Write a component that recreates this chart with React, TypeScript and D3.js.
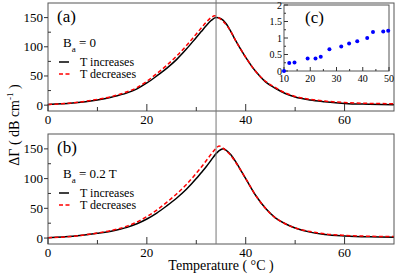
import React from "react";
import * as d3 from "d3";

// panel (a), B_a = 0
const upA = [[0,1],[5,3.5],[10,9],[13,14],[16,21],[18,28],[20,38],[22,50],[24,63],[26,78],[28,96],[30,116],[31,126],[32,136],[33,145],[34,150],[35,148],[36,140],[37,126],[38,110],[40,82],[42,58],[44,40],[46,29],[48,20],[50,14],[53,9],[56,6],[60,3],[65,1.5],[70,0.5]];
const downA = [[0,1],[5,4],[10,10],[13,15],[16,23],[18,30],[20,41],[22,54],[24,68],[26,84],[28,102],[30,122],[31,132],[32,142],[33,150],[33.7,153],[34.5,150],[35.5,143],[37,126],[38,110],[40,82],[42,58],[44,41],[46,30],[48,21],[50,15],[53,10],[56,7],[60,4.5],[65,3],[70,2.5]];
// panel (b), B_a = 0.2 T
const upB = [[0,0.5],[5,3],[10,8],[13,12],[16,18],[18,24],[20,32],[22,42],[24,54],[26,67],[28,82],[30,100],[31,110],[32,120],[33,131],[34,142],[35,149],[35.5,150],[36,148],[37,140],[38,128],[39,114],[40,100],[42,72],[44,50],[46,34],[48,24],[50,17],[53,10],[56,6],[60,3.5],[65,2],[70,1.5]];
const downB = [[0,0.5],[5,3],[10,8.5],[13,13],[16,20],[18,27],[20,36],[22,47],[24,60],[26,74],[28,90],[30,109],[31,119],[32,130],[33,141],[34,151],[34.6,155],[35.3,152],[36,147],[37,139],[38,127],[39,114],[40,100],[42,72],[44,50],[46,34],[48,24],[50,17],[53,11],[56,7],[60,4.5],[65,3],[70,2.5]];
// inset (c)
const insetPts = [[10,0],[12,0.24],[14,0.26],[19,0.38],[22,0.38],[24,0.43],[27.3,0.66],[31.8,0.74],[34.8,0.83],[37.9,0.9],[41.7,1.0],[43.9,1.18],[47.8,1.2],[49.7,1.22]];

const xTicks = [0, 20, 40, 60];
const xMinor = [10, 30, 50];
const yTicks = [0, 50, 100, 150];
const yMinor = [25, 75, 125];
const insetXTicks = [10, 20, 30, 40, 50];
const insetYTicks = [0, 0.5, 1, 1.5, 2];
const tMarker = 34;

const serif = { fontFamily: "Liberation Serif, Times New Roman, serif" };
const L = 48, R = 394;

const x = d3.scaleLinear().domain([0, 70]).range([L, R]);

function Panel({ top, bottom, up, down, tag, field }) {
  const y = d3.scaleLinear().domain([-10, 175]).range([bottom, top]);
  const line = d3.line().x((d) => x(d[0])).y((d) => y(d[1])).curve(d3.curveMonotoneX);
  return (
    <g>
      <path d={line(up)} fill="none" stroke="#000" strokeWidth={1.5} />
      <path d={line(down)} fill="none" stroke="#f00" strokeWidth={1.5} strokeDasharray="4,2.5" />
      <rect x={L} y={top} width={R - L} height={bottom - top} fill="none" stroke="#555" strokeWidth={1} />
      {xTicks.map((t) => (
        <g key={t}>
          <line x1={x(t)} x2={x(t)} y1={bottom} y2={bottom - 7} stroke="#333" />
          <text x={x(t)} y={bottom + 13} textAnchor="middle" fontSize={13} style={serif}>{t}</text>
        </g>
      ))}
      {xMinor.map((t) => (
        <line key={t} x1={x(t)} x2={x(t)} y1={bottom} y2={bottom - 4} stroke="#333" />
      ))}
      {yTicks.map((t) => (
        <g key={t}>
          <line x1={L - 4} x2={L} y1={y(t)} y2={y(t)} stroke="#333" />
          <text x={L - 5} y={y(t) + 4.5} textAnchor="end" fontSize={13} style={serif}>{t}</text>
        </g>
      ))}
      {yMinor.map((t) => (
        <line key={t} x1={L} x2={L + 3} y1={y(t)} y2={y(t)} stroke="#333" />
      ))}
      <text x={57} y={top + 19} fontSize={17} style={serif}>{tag}</text>
      <text x={63} y={top + 44} fontSize={13} style={serif}>
        B<tspan fontSize={9} dy={5}>a</tspan><tspan dy={-5}>{" = " + field}</tspan>
      </text>
      <line x1={59} x2={69} y1={top + 59} y2={top + 59} stroke="#000" strokeWidth={1.5} />
      <line x1={59} x2={71} y1={top + 71} y2={top + 71} stroke="#f00" strokeWidth={1.5} strokeDasharray="4,2.5" />
      <text x={80} y={top + 63} fontSize={12} style={serif}>T increases</text>
      <text x={80} y={top + 75} fontSize={12} style={serif}>T decreases</text>
    </g>
  );
}

function Inset() {
  const ix = d3.scaleLinear().domain([10, 50]).range([284, 389]);
  const iy = d3.scaleLinear().domain([0, 2]).range([71, 5]);
  return (
    <g>
      <rect x={284} y={5} width={105} height={66} fill="#fff" stroke="#555" />
      {d3.range(10, 51, 5).map((t) => (
        <line key={t} x1={ix(t)} x2={ix(t)} y1={71} y2={t % 10 === 0 ? 67 : 69} stroke="#333" />
      ))}
      {d3.range(0, 2.01, 0.25).map((t) => (
        <line key={t} x1={284} x2={t % 0.5 === 0 ? 288 : 286} y1={iy(t)} y2={iy(t)} stroke="#333" />
      ))}
      {insetXTicks.map((t) => (
        <text key={t} x={ix(t)} y={82} textAnchor="middle" fontSize={10} style={serif}>{t}</text>
      ))}
      {insetYTicks.map((t) => (
        <text key={t} x={282} y={iy(t) + 3.5} textAnchor="end" fontSize={10} style={serif}>{t}</text>
      ))}
      {insetPts.map((p, i) => (
        <circle key={i} cx={ix(p[0])} cy={iy(p[1])} r={2} fill="#0000ff" />
      ))}
      <text x={305} y={23} fontSize={17} style={serif}>(c)</text>
    </g>
  );
}

export default function App() {
  return (
    <svg width={395} height={275} style={{ position: "absolute", left: 0, top: 0, background: "#fff" }}>
      <rect width={395} height={275} fill="#fff" />
      <Panel top={3} bottom={111} up={upA} down={downA} tag="(a)" field="0" />
      <Panel top={134} bottom={244} up={upB} down={downB} tag="(b)" field="0.2 T" />
      <line x1={x(tMarker)} x2={x(tMarker)} y1={0} y2={244} stroke="#777" strokeWidth={1} />
      <Inset />
      <text transform="translate(19,125) rotate(-90)" textAnchor="middle" fontSize={14} style={serif}>
        ΔΓ ( dB cm<tspan fontSize={9} dy={-6}>-1</tspan><tspan dy={6}> )</tspan>
      </text>
      <text x={221} y={270} textAnchor="middle" fontSize={14} style={serif}>Temperature ( °C )</text>
    </svg>
  );
}
